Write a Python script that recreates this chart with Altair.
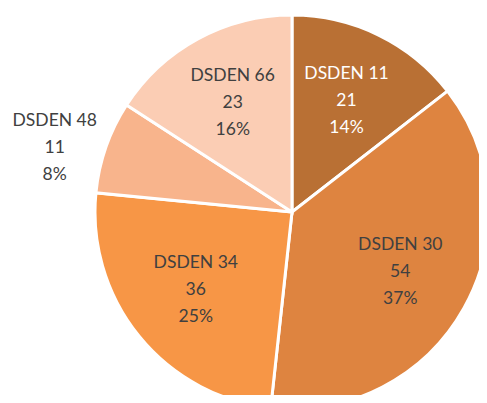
import altair as alt
import pandas as pd

categories = ["DSDEN 11", "DSDEN 30", "DSDEN 34", "DSDEN 48", "DSDEN 66"]
values = [21, 54, 36, 11, 23]
percents = ["14%", "37%", "25%", "8%", "16%"]

slice_colors = ["#B97034", "#DE8440", "#F79646", "#F8B48C", "#FBCDB4"]
text_colors = ["#FFFFFF", "#404040", "#404040", "#404040", "#404040"]

df = pd.DataFrame({
    "cat": categories,
    "value": values,
    "pct": percents,
    "idx": list(range(len(categories))),
})
df["label"] = df["cat"] + "\n" + df["value"].astype(str) + "\n" + df["pct"]

CX, CY, R = 284, 204, 197

base = alt.Chart(df).encode(
    theta=alt.Theta("value:Q", stack=True),
    order=alt.Order("idx:Q"),
    x=alt.value(CX),
    y=alt.value(CY),
)

pie = base.mark_arc(outerRadius=R, stroke="white", strokeWidth=3).encode(
    color=alt.Color("cat:N", scale=alt.Scale(domain=categories, range=slice_colors), legend=None)
)

font = "Lato"
fs = 17.5
LH = 27
inner = base.mark_text(radius=124, dy=-LH, font=font, fontSize=fs, lineBreak="\n", lineHeight=LH).encode(
    text="label:N",
    color=alt.Color("cat:N", scale=alt.Scale(domain=categories, range=text_colors), legend=None),
    opacity=alt.condition("datum.value < 15", alt.value(0), alt.value(1)),
)
outer = base.mark_text(radius=245, dx=-6, dy=-10, font=font, fontSize=fs, lineBreak="\n", lineHeight=LH, color="#404040").encode(
    text="label:N",
    opacity=alt.condition("datum.value < 15", alt.value(1), alt.value(0)),
)

chart = alt.layer(pie, inner, outer).resolve_scale(color="independent").properties(
    width=471, height=387, padding=0,
    autosize=alt.AutoSizeParams(type="none"),
).configure_view(stroke=None)

chart.save("out.html", embed_options={"renderer": "svg", "actions": False})
